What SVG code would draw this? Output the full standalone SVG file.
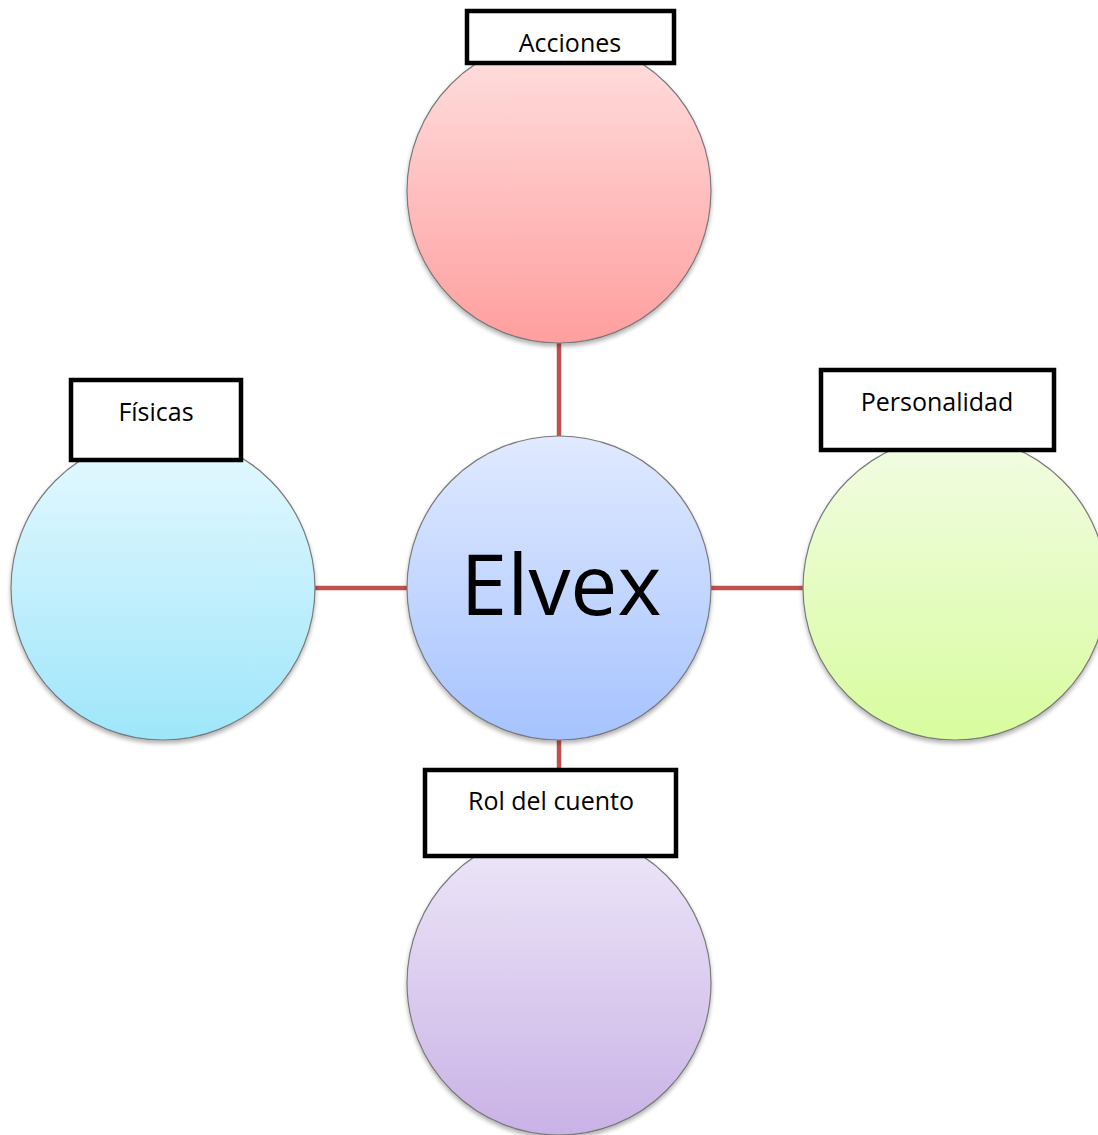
<svg xmlns="http://www.w3.org/2000/svg" width="1098" height="1135" viewBox="0 0 1098 1135">
<defs>
<linearGradient id="gRed" x1="0" y1="0" x2="0" y2="1"><stop offset="0" stop-color="#FFE0E0"/><stop offset="1" stop-color="#FF9E9E"/></linearGradient>
<linearGradient id="gBlue" x1="0" y1="0" x2="0" y2="1"><stop offset="0" stop-color="#E0EAFF"/><stop offset="1" stop-color="#A6C3FF"/></linearGradient>
<linearGradient id="gCyan" x1="0" y1="0" x2="0" y2="1"><stop offset="0" stop-color="#E6F9FF"/><stop offset="1" stop-color="#9EE6FA"/></linearGradient>
<linearGradient id="gGreen" x1="0" y1="0" x2="0" y2="1"><stop offset="0" stop-color="#F2FCE4"/><stop offset="1" stop-color="#D8FC9E"/></linearGradient>
<linearGradient id="gPurple" x1="0" y1="0" x2="0" y2="1"><stop offset="0" stop-color="#EEE8F8"/><stop offset="1" stop-color="#C9B2E6"/></linearGradient>
<filter id="sh" x="-10%" y="-10%" width="120%" height="125%"><feDropShadow dx="0" dy="3" stdDeviation="2" flood-color="#000" flood-opacity="0.3"/></filter>
</defs>
<style>
.c{stroke:#7a7a7a;stroke-width:1.2;filter:url(#sh)}
.b{fill:#fff;stroke:#000;stroke-width:4.5}
.t{font-family:"Open Sans","Noto Sans",sans-serif;font-size:25px;fill:#000;text-anchor:middle}
.conn{stroke:#C0504D;stroke-width:4.5;fill:none}
</style>
<g id="connectors">
<line class="conn" x1="559" y1="343" x2="559" y2="437"/>
<line class="conn" x1="315" y1="588" x2="408" y2="588"/>
<line class="conn" x1="711" y1="588" x2="804" y2="588"/>
<line class="conn" x1="559" y1="740" x2="559" y2="770"/>
</g>
<g id="node-acciones">
<circle class="c" cx="559" cy="191" r="152" fill="url(#gRed)"/>
<rect class="b" x="467" y="11" width="207" height="52"/>
<text class="t" x="570" y="52">Acciones</text>
</g>
<g id="node-fisicas">
<circle class="c" cx="163" cy="588" r="152" fill="url(#gCyan)"/>
<rect class="b" x="71" y="380" width="170" height="80"/>
<text class="t" x="156" y="421">Físicas</text>
</g>
<g id="node-personalidad">
<circle class="c" cx="955" cy="588" r="152" fill="url(#gGreen)"/>
<rect class="b" x="821" y="370" width="233" height="80"/>
<text class="t" x="937" y="411">Personalidad</text>
</g>
<g id="node-rol">
<circle class="c" cx="559" cy="983" r="152" fill="url(#gPurple)"/>
<rect class="b" x="425" y="770" width="251" height="86"/>
<text class="t" x="551" y="810">Rol del cuento</text>
</g>
<g id="node-elvex">
<circle class="c" cx="559" cy="588" r="152" fill="url(#gBlue)"/>
<text x="561" y="615" font-family="Open Sans, Noto Sans, sans-serif" font-size="84" text-anchor="middle" fill="#000">Elvex</text>
</g>
</svg>
